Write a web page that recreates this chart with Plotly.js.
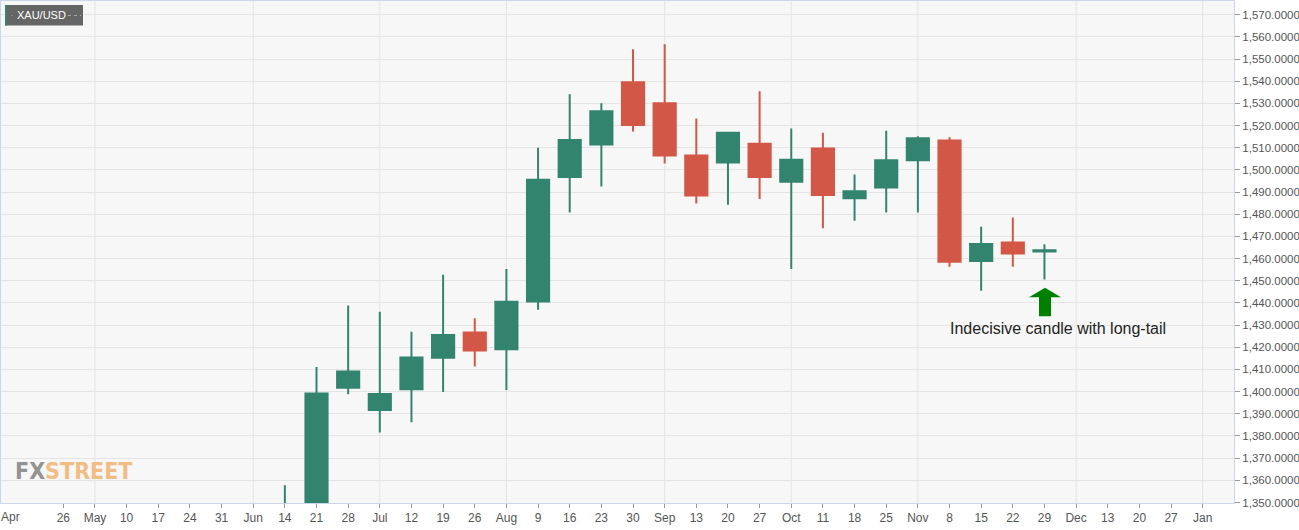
<!DOCTYPE html>
<html>
<head>
<meta charset="utf-8">
<script src="https://cdn.plot.ly/plotly-3.0.1.min.js"></script>
<style>html,body{margin:0;padding:0;background:#fff;}#chart{width:1299px;height:530px;}</style>
</head>
<body>
<div id="chart"></div>
<script>
// ---- data (weekly XAU/USD candles, week ending Friday) ----
const weeks = ['2019-06-14','2019-06-21','2019-06-28','2019-07-05','2019-07-12','2019-07-19','2019-07-26',
  '2019-08-02','2019-08-09','2019-08-16','2019-08-23','2019-08-30','2019-09-06','2019-09-13','2019-09-20',
  '2019-09-27','2019-10-04','2019-10-11','2019-10-18','2019-10-25','2019-11-01','2019-11-08','2019-11-15',
  '2019-11-22','2019-11-29'];
const openV  = [1337.0,1341.0,1401.8,1391.7,1401.1,1415.3,1426.7,1419.1,1440.6,1496.8,1511.5,1539.5,1530.0,1506.5,1503.3,1511.8,1494.7,1509.7,1487.2,1492.1,1504.3,1513.3,1458.9,1467.3,1463.2];
const highV  = [1357.8,1411.1,1438.8,1436.0,1427.0,1452.7,1433.1,1455.3,1510.0,1534.1,1530.0,1554.4,1556.7,1523.2,1516.9,1535.5,1518.7,1516.8,1497.9,1517.7,1515.2,1514.7,1474.4,1478.5,1466.5];
const lowV   = [1321.0,1340.0,1398.8,1381.6,1386.2,1399.8,1411.3,1400.7,1436.9,1480.8,1492.5,1517.3,1502.9,1484.8,1484.3,1486.9,1455.3,1473.7,1477.1,1480.8,1480.8,1456.3,1445.5,1456.3,1450.6];
const closeV = [1341.0,1399.2,1409.1,1398.9,1415.4,1425.5,1418.5,1440.5,1495.5,1513.5,1526.5,1520.2,1506.5,1488.4,1516.7,1496.8,1504.6,1488.7,1490.4,1504.3,1514.3,1458.6,1466.6,1462.3,1463.8];

const tickDates = ['2019-04-26','2019-05-03','2019-05-10','2019-05-17','2019-05-24','2019-05-31','2019-06-07',
  '2019-06-14','2019-06-21','2019-06-28','2019-07-05','2019-07-12','2019-07-19','2019-07-26','2019-08-02',
  '2019-08-09','2019-08-16','2019-08-23','2019-08-30','2019-09-06','2019-09-13','2019-09-20','2019-09-27',
  '2019-10-04','2019-10-11','2019-10-18','2019-10-25','2019-11-01','2019-11-08','2019-11-15','2019-11-22',
  '2019-11-29','2019-12-06','2019-12-13','2019-12-20','2019-12-27','2020-01-03'];
const tickLabels = ['26','May','10','17','24','31','Jun','14','21','28','Jul','12','19','26','Aug','9','16','23','30',
  'Sep','13','20','27','Oct','11','18','25','Nov','8','15','22','29','Dec','13','20','27','Jan'];
const monthStarts = ['2019-05-03','2019-06-07','2019-07-05','2019-08-02','2019-09-06','2019-10-04','2019-11-01','2019-12-06','2020-01-03'];
const firstLabel = 'Apr';
const symbol = 'XAU/USD';
const noteText = 'Indecisive candle with long-tail';
const logoParts = ['FX', 'STREET'];

// ---- layout geometry ----
const W = 1299, H = 530;
const M = {l: 1, r: 65, t: 1, b: 27};
const PW = W - M.l - M.r, PH = H - M.t - M.b;
const px = x => (x - M.l) / PW;
const py = y => (M.t + PH - y) / PH;

const GREEN = '#33846f', RED = '#d35746';
const FONT = 'Liberation Sans, Arial, sans-serif';

const trace = {
  type: 'candlestick', x: weeks, open: openV, high: highV, low: lowV, close: closeV,
  increasing: {line: {color: GREEN, width: 2}, fillcolor: GREEN},
  decreasing: {line: {color: RED, width: 2}, fillcolor: RED},
  whiskerwidth: 0, hoverinfo: 'skip', showlegend: false
};

const shapes = monthStarts.map(d => ({
  type: 'line', xref: 'x', yref: 'paper', x0: d, x1: d, y0: 0, y1: 1,
  line: {color: '#e4e4e4', width: 1}, layer: 'below'
}));

// symbol badge
shapes.push({type: 'rect', xref: 'paper', yref: 'paper', x0: px(5), x1: px(83), y0: py(5), y1: py(25.5),
  fillcolor: '#656565', line: {width: 0}});
shapes.push({type: 'rect', xref: 'paper', yref: 'paper', x0: px(5), x1: px(7), y0: py(5), y1: py(25.5),
  fillcolor: '#33846f', line: {width: 0}});
shapes.push({type: 'line', xref: 'paper', yref: 'paper', x0: px(68), x1: px(81), y0: py(15.5), y1: py(15.5),
  line: {color: '#a8a8a8', width: 1, dash: 'dot'}});
shapes.push({type: 'line', xref: 'paper', yref: 'paper', x0: px(11.5), x1: px(12.5), y0: py(15.5), y1: py(15.5),
  line: {color: '#a8a8a8', width: 1}});

// green arrow
const arrowPts = [[1045,287.7],[1061,297.3],[1051,297.3],[1051,316.3],[1039,316.3],[1039,297.3],[1029,297.3]];
shapes.push({type: 'path', xref: 'paper', yref: 'paper',
  path: 'M' + arrowPts.map(p => px(p[0]) + ',' + py(p[1])).join(' L') + ' Z',
  fillcolor: '#008000', line: {width: 0}});

const annotations = [
  {xref: 'paper', yref: 'paper', x: px(16), y: py(15.5), xanchor: 'left', yanchor: 'middle', showarrow: false,
   text: symbol, font: {family: FONT, size: 11, color: '#ffffff'}, borderpad: 0},
  {xref: 'paper', yref: 'paper', x: px(1058), y: py(328), xanchor: 'center', yanchor: 'middle', showarrow: false,
   text: noteText, font: {family: FONT, size: 16, color: '#222222'}},
  {xref: 'paper', yref: 'paper', x: px(0), y: py(517), xanchor: 'left', yanchor: 'middle', showarrow: false,
   text: firstLabel, borderpad: 0, font: {family: FONT, size: 12, color: '#555555'}},
  {xref: 'paper', yref: 'paper', x: px(14), y: py(471), xanchor: 'left', yanchor: 'middle', showarrow: false,
   borderpad: 0,
   text: '<b><span style="color:#939393">' + logoParts[0] + '</span><span style="color:#f1bd84">' + logoParts[1] + '</span></b>',
   font: {family: 'DejaVu Sans Condensed, Liberation Sans Narrow, sans-serif', size: 23, color: '#939393'}}
];

const layout = {
  width: W, height: H, margin: M,
  paper_bgcolor: '#ffffff', plot_bgcolor: '#f7f7f7',
  boxgap: 0.3, boxgroupgap: 0,
  showlegend: false, dragmode: false,
  xaxis: {
    type: 'date', range: ['2019-04-12 05:17', '2020-01-09 22:05'],
    tickmode: 'array', tickvals: tickDates, ticktext: tickLabels,
    showgrid: false, zeroline: false,
    ticks: 'outside', ticklen: 4, tickcolor: '#999999', tickwidth: 1,
    showline: true, linecolor: '#ccd6eb', linewidth: 1, mirror: true,
    tickfont: {family: FONT, size: 12, color: '#555555'},
    rangeslider: {visible: false}, fixedrange: true
  },
  yaxis: {
    side: 'right', range: [1349.77, 1576.17],
    tickmode: 'linear', tick0: 1350, dtick: 10, tickformat: ',.4f',
    showgrid: true, gridcolor: '#e4e4e4', gridwidth: 1, zeroline: false,
    ticks: 'outside', ticklen: 5, tickcolor: '#999999', tickwidth: 1,
    ticklabelstandoff: 0,
    showline: true, linecolor: '#ccd6eb', linewidth: 1, mirror: true,
    tickfont: {family: FONT, size: 11.5, color: '#555555'},
    fixedrange: true
  },
  shapes: shapes,
  annotations: annotations
};

Plotly.newPlot('chart', [trace], layout, {displayModeBar: false, staticPlot: true});
</script>
</body>
</html>
